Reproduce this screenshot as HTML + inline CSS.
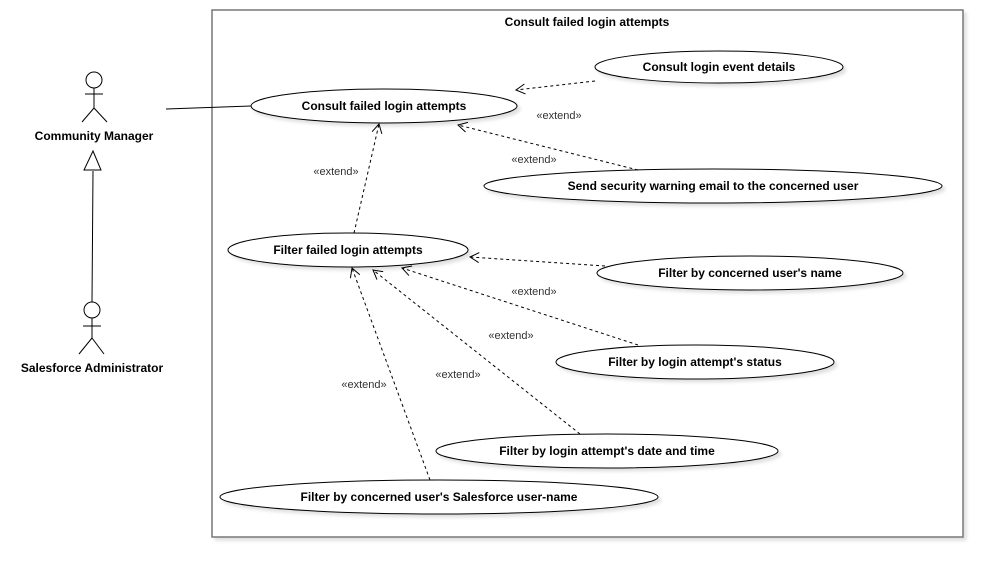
<!DOCTYPE html>
<html><head><meta charset="utf-8"><style>
html,body{margin:0;padding:0;background:#fff;}
svg{display:block;font-family:"Liberation Sans",Arial,sans-serif;}
.b{font-size:12px;font-weight:bold;fill:#000;}
.e{font-size:11px;fill:#333;}
</style></head><body>
<svg width="1003" height="578" viewBox="0 0 1003 578">
<defs>
<marker id="a" markerWidth="12" markerHeight="12" refX="10" refY="6" orient="auto" markerUnits="userSpaceOnUse">
<path d="M1,1 L10,6 L1,11" fill="none" stroke="#000" stroke-width="1"/>
</marker>
<filter id="s" x="-5%" y="-5%" width="110%" height="120%"><feDropShadow dx="3" dy="3" stdDeviation="1.5" flood-color="#000" flood-opacity="0.12"/></filter>
</defs>
<rect x="212" y="10" width="751" height="527" fill="#fff" stroke="#777" stroke-width="1.5" filter="url(#s)"/>
<text x="587" y="26" text-anchor="middle" class="b">Consult failed login attempts</text>

<!-- actors -->
<g stroke="#000" stroke-width="1" fill="#fff">
<circle cx="94" cy="80" r="8"/>
<line x1="94" y1="88" x2="94" y2="108"/>
<line x1="85" y1="94" x2="103" y2="94"/>
<line x1="94" y1="108" x2="82" y2="122"/>
<line x1="94" y1="108" x2="107" y2="122"/>
<circle cx="92" cy="310" r="8"/>
<line x1="92" y1="318" x2="92" y2="338"/>
<line x1="83" y1="326" x2="101" y2="326"/>
<line x1="92" y1="338" x2="79" y2="354"/>
<line x1="92" y1="338" x2="104" y2="354"/>
<line x1="92" y1="302" x2="93" y2="171"/>
<path d="M93,151 L84,170 L101,170 Z"/>
<line x1="166" y1="109" x2="251" y2="106"/>
</g>
<text x="94" y="140" text-anchor="middle" class="b">Community Manager</text>
<text x="92" y="372" text-anchor="middle" class="b">Salesforce Administrator</text>

<!-- ellipses -->
<g fill="#fff" stroke="#000" stroke-width="1" filter="url(#s)">
<ellipse cx="384" cy="106" rx="133" ry="17"/>
<ellipse cx="719" cy="67" rx="124" ry="16"/>
<ellipse cx="713" cy="186" rx="229" ry="17"/>
<ellipse cx="348" cy="250" rx="120" ry="17"/>
<ellipse cx="750" cy="273" rx="153" ry="17"/>
<ellipse cx="695" cy="362" rx="139" ry="17"/>
<ellipse cx="607" cy="451" rx="171" ry="17"/>
<ellipse cx="439" cy="497" rx="219" ry="17"/>
</g>
<g class="b" text-anchor="middle">
<text x="384" y="110">Consult failed login attempts</text>
<text x="719" y="71">Consult login event details</text>
<text x="713" y="190">Send security warning email to the concerned user</text>
<text x="348" y="254">Filter failed login attempts</text>
<text x="750" y="277">Filter by concerned user's name</text>
<text x="695" y="366">Filter by login attempt's status</text>
<text x="607" y="455">Filter by login attempt's date and time</text>
<text x="439" y="501">Filter by concerned user's Salesforce user-name</text>
</g>

<!-- extends -->
<g stroke="#000" stroke-width="1" stroke-dasharray="3,3" fill="none" marker-end="url(#a)">
<line x1="595" y1="81" x2="516" y2="90"/>
<line x1="638" y1="170" x2="458" y2="125"/>
<line x1="354" y1="233" x2="379" y2="124"/>
<line x1="605" y1="266" x2="470" y2="257"/>
<line x1="638" y1="345" x2="402" y2="268"/>
<line x1="580" y1="434" x2="373" y2="270"/>
<line x1="430" y1="480" x2="352" y2="268"/>
</g>
<g class="e" text-anchor="middle">
<text x="559" y="119">«extend»</text>
<text x="534" y="163">«extend»</text>
<text x="336" y="175">«extend»</text>
<text x="534" y="295">«extend»</text>
<text x="511" y="339">«extend»</text>
<text x="458" y="378">«extend»</text>
<text x="364" y="388">«extend»</text>
</g>
</svg>
</body></html>
